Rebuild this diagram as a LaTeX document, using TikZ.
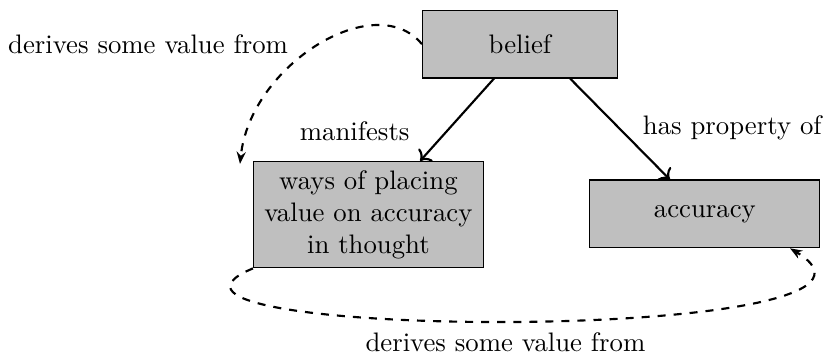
\documentclass[tikz,border=0pt]{standalone}
\usepackage{tikz}
\usetikzlibrary{arrows.meta}

\begin{document}
\begin{tikzpicture}[scale=1.0,
    concept/.style={draw,thin,fill=gray!50,minimum height=0.89cm,align=center},
    link/.style={->,thick},
    derive/.style={-{Stealth[length=1.6mm]},dashed,thick}]
  \useasboundingbox (0.0,0.0) rectangle (10.97,-4.64);
  \node[concept,minimum width=2.56cm] (belief) at (6.83,-0.58) {belief};
  \node[concept,minimum width=3.02cm,minimum height=1.38cm] (ways) at (4.84,-2.82)
      {ways of placing\\value on accuracy\\in thought};
  \node[concept,minimum width=3.02cm] (accuracy) at (9.26,-2.81) {accuracy};
  % what a belief has / shows
  \draw[link] ([xshift=-0.34cm]belief.south) -- ([xshift=0.68cm]ways.north);
  \draw[link] ([xshift=0.66cm]belief.south) -- ([xshift=-0.46cm]accuracy.north);
  \node (manifests) at (4.66,-1.72) {manifests};
  \node (hasprop) at (9.62,-1.68) {has property of};
  % value derived back and forth
  \draw[derive] (belief.west) .. controls (4.93,0.16) and (3.285,-0.85) .. ([xshift=-0.17cm,yshift=-0.04cm]ways.north west);
  \draw[derive] (ways.south west) .. controls (1.05,-4.47) and (12.48,-4.53) .. (accuracy.-22);
  \node (derivetop) at (1.945,-0.58) {derives some value from};
  \node (derivebot) at (6.64,-4.49) {derives some value from};
\end{tikzpicture}
\end{document}
